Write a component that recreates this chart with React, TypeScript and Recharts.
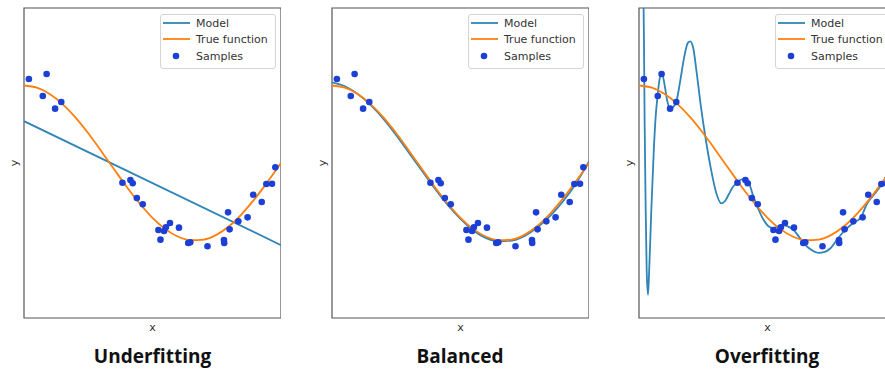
import {
  ComposedChart,
  Line,
  Scatter,
  XAxis,
  YAxis,
  ReferenceArea,
  Legend,
} from 'recharts';

// sample points (x, y), same in all three panels
const sampleX = [
  0.019, 0.073, 0.088, 0.121, 0.145, 0.383, 0.414, 0.423, 0.439, 0.462,
  0.523, 0.531, 0.545, 0.552, 0.568, 0.603, 0.639, 0.647, 0.714, 0.778,
  0.779, 0.794, 0.8, 0.834, 0.87, 0.892, 0.925, 0.943, 0.965, 0.978,
];
const sampleY = [
  1.084, 0.865, 1.148, 0.701, 0.787, -0.254, -0.219, -0.262, -0.452, -0.533,
  -0.865, -0.989, -0.877, -0.83, -0.774, -0.834, -1.032, -1.024, -1.075, -0.994,
  -1.032, -0.637, -0.856, -0.753, -0.701, -0.409, -0.503, -0.271, -0.267, -0.056,
];

// true function, sampled along x
const curveX = [
  0, 0.05, 0.1, 0.15, 0.2, 0.25, 0.3, 0.35, 0.4, 0.45, 0.5,
  0.55, 0.6, 0.65, 0.7, 0.75, 0.8, 0.85, 0.9, 0.95, 1,
];
const trueY = [
  1, 0.972, 0.891, 0.76, 0.588, 0.383, 0.156, -0.078, -0.309, -0.522, -0.707,
  -0.853, -0.951, -0.997, -0.988, -0.924, -0.809, -0.649, -0.454, -0.233, 0,
];

// models
const underX = [0, 1];
const underY = [0.54, -1.06];

const balancedY = [
  1.04, 0.99, 0.89, 0.75, 0.57, 0.36, 0.13, -0.1, -0.33, -0.54, -0.72,
  -0.87, -0.97, -1.01, -1.0, -0.94, -0.83, -0.68, -0.49, -0.26, 0.02,
];

const overX = [
  0, 0.01, 0.016, 0.0195, 0.022, 0.026, 0.03, 0.035, 0.04, 0.048, 0.058,
  0.066, 0.072, 0.08, 0.089, 0.1, 0.11, 0.121, 0.133, 0.146, 0.16, 0.175,
  0.19, 0.199, 0.21, 0.225, 0.24, 0.26, 0.28, 0.3, 0.32, 0.335, 0.35, 0.365,
  0.38, 0.4, 0.42, 0.445, 0.465, 0.484, 0.505, 0.523, 0.545, 0.5625, 0.58,
  0.6, 0.62, 0.64, 0.67, 0.7, 0.72, 0.745, 0.77, 0.79, 0.81, 0.835, 0.862,
  0.888, 0.914, 0.947, 0.97, 1,
];
const overY = [
  12, 5, 2.6, 1.5, 0.5, -0.6, -1.4, -1.7, -1.35, -0.6, 0.2,
  0.65, 0.86, 1.08, 1.16, 1.0, 0.8, 0.7, 0.72, 0.8, 1.05, 1.35,
  1.55, 1.57, 1.5, 1.15, 0.75, 0.3, -0.08, -0.38, -0.52, -0.49, -0.4, -0.31,
  -0.26, -0.21, -0.215, -0.43, -0.6, -0.73, -0.82, -0.84, -0.81, -0.8, -0.82,
  -0.86, -0.94, -1.03, -1.12, -1.16, -1.15, -1.1, -0.99, -0.91, -0.84, -0.77, -0.71,
  -0.52, -0.41, -0.26, -0.1, 0.3,
];

const titles = ['Underfitting', 'Balanced', 'Overfitting'];

const MODEL = '#2f84b8';
const TRUE = '#ff7f0e';
const DOT = '#1c3fd6';
const FONT = '"DejaVu Sans", sans-serif';

const toPoints = (xs: number[], ys: number[]) => xs.map((x, i) => ({ x, y: ys[i] }));

const samples = toPoints(sampleX, sampleY);
const trueData = toPoints(curveX, trueY);

const LegendBox = () => (
  <svg width={117} height={56} style={{ display: 'block' }}>
    <rect x={0.5} y={0.5} width={115} height={54} rx={2.5} fill="#fff" fillOpacity={0.85} stroke="#d4d4d4" />
    <line x1={3} x2={30} y1={9} y2={9} stroke={MODEL} strokeWidth={1.8} />
    <line x1={3} x2={30} y1={25} y2={25} stroke={TRUE} strokeWidth={1.8} />
    <circle cx={16} cy={42} r={3.3} fill={DOT} />
    <g fontFamily={FONT} fontSize={11} fill="#333">
      <text x={36} y={13}>Model</text>
      <text x={36} y={29}>True function</text>
      <text x={36} y={46}>Samples</text>
    </g>
  </svg>
);

const Dot = (props: any) => <circle cx={props.cx} cy={props.cy} r={3.3} fill={DOT} />;

const Panel = ({ left, model }: { left: number; model: { x: number; y: number }[] }) => (
  <div style={{ position: 'absolute', left, top: 0 }}>
    <ComposedChart width={281} height={370} margin={{ top: 8, right: 0, bottom: 0, left: 0 }}>
      <XAxis
        type="number"
        dataKey="x"
        domain={[0, 1]}
        allowDataOverflow
        tick={false}
        tickLine={false}
        axisLine={false}
        height={52}
        label={{ value: 'x', position: 'insideTop', offset: 5, fill: '#333', fontSize: 11, fontFamily: FONT }}
      />
      <YAxis
        type="number"
        dataKey="y"
        domain={[-2, 2]}
        allowDataOverflow
        tick={false}
        tickLine={false}
        axisLine={false}
        width={24}
        label={{ value: 'y', angle: -90, position: 'center', dx: 2, fill: '#333', fontSize: 11, fontFamily: FONT }}
      />
      <Line data={model} dataKey="y" type="monotone" stroke={MODEL} strokeWidth={1.8} dot={false} isAnimationActive={false} />
      <Line data={trueData} dataKey="y" type="monotone" stroke={TRUE} strokeWidth={1.8} dot={false} isAnimationActive={false} />
      <Scatter data={samples} dataKey="y" shape={<Dot />} isAnimationActive={false} />
      <ReferenceArea x1={0} x2={1} y1={-2} y2={2} fill="none" stroke="#555" strokeWidth={1.2} />
      <Legend
        layout="vertical"
        align="center"
        verticalAlign="middle"
        content={() => <LegendBox />}
        wrapperStyle={{ position: 'absolute', top: 14, left: 160, width: 117, height: 56 }}
      />
    </ComposedChart>
  </div>
);

export default function App() {
  const lefts = [0, 308, 615];
  const models = [toPoints(underX, underY), toPoints(curveX, balancedY), toPoints(overX, overY)];
  const centers = [152.5, 460, 767];
  return (
    <div style={{ position: 'absolute', left: 0, top: 0, width: 885, height: 370, overflow: 'hidden', background: '#fff' }}>
      {lefts.map((l, i) => (
        <Panel key={i} left={l} model={models[i]} />
      ))}
      <svg width={885} height={370} style={{ position: 'absolute', left: 0, top: 0, pointerEvents: 'none' }}>
        {titles.map((t, i) => (
          <text
            key={t}
            x={centers[i]}
            y={363}
            textAnchor="middle"
            fontFamily='"Open Sans", sans-serif'
            fontWeight="bold"
            fontSize={19}
            fill="#111"
          >
            {t}
          </text>
        ))}
      </svg>
    </div>
  );
}
